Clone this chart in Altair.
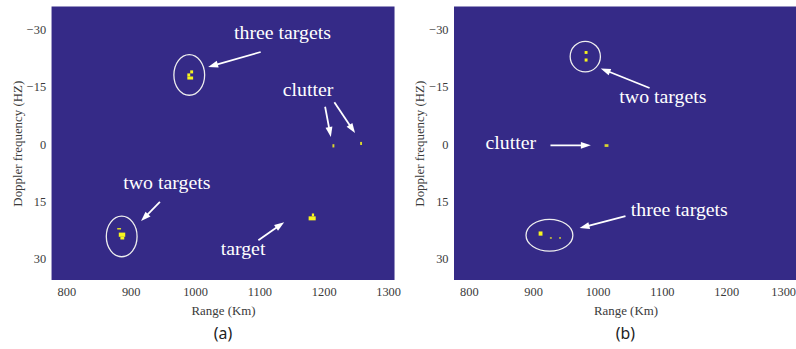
import math
import altair as alt
import pandas as pd

# Axis extents of both range-Doppler maps
RANGE_DOMAIN = [777, 1310]      # km
DOPPLER_DOMAIN = [-36, 35.5]    # Hz
PLOT_W, PLOT_H = 346, 276

BG = "#352A87"
YELLOW = "#F7F41E"
SERIF = "'Liberation Serif', 'Times New Roman', Times, serif"
SANS = "'Noto Sans', 'DejaVu Sans', sans-serif"
INK = "#3a3a3a"

RANGE_TICKS = [800, 900, 1000, 1100, 1200, 1300]
DOPPLER_TICKS = [-30, -15, 0, 15, 30]

# ---- panel (a) ----
# detected cells: range start, range end, doppler start, doppler end, intensity
a_cells = [
    (992.5, 997.0, -19.3, -18.5, 1.0),
    (988.0, 992.5, -18.5, -17.7, 1.0),
    (988.0, 997.0, -17.7, -16.9, 1.0),
    (879.0, 885.0, 21.9, 22.3, 0.85),
    (881.5, 891.5, 23.1, 24.2, 1.0),
    (884.0, 890.0, 24.2, 24.9, 1.0),
    (1181.5, 1185.0, 18.1, 18.85, 1.0),
    (1176.5, 1187.5, 18.85, 19.9, 1.0),
    (1213.5, 1216.5, 0.0, 0.85, 0.85),
    (1256.5, 1259.5, -0.6, 0.2, 0.85),
]
# ellipses: centre range, centre doppler, half-width (km), half-height (Hz)
a_ellipses = [
    (991.0, -18.1, 23.9, 5.31),
    (886.0, 24.1, 23.9, 5.31),
]
# arrows: tail range, tail doppler, tip range, tip doppler
a_arrows = [
    (1102.0, -24.1, 1020.4, -20.2),
    (1202.1, -9.8, 1211.0, -1.9),
    (1216.5, -10.95, 1248.6, -2.9),
    (945.4, 15.1, 916.1, 20.1),
    (1098.4, 25.1, 1138.5, 20.4),
]
a_labels = [
    ("three targets", 1135.9, -29.1),
    ("clutter", 1175.5, -14.2),
    ("two targets", 956.2, 10.2),
    ("target", 1074.6, 27.5),
]

# ---- panel (b) ----
b_cells = [
    (980.0, 984.5, -24.35, -23.6, 1.0),
    (980.0, 984.5, -22.4, -21.6, 1.0),
    (1011.0, 1017.0, 0.0, 0.7, 0.85),
    (908.5, 914.5, 22.8, 23.9, 1.0),
    (926.0, 929.0, 24.3, 24.7, 0.8),
    (940.3, 943.3, 24.3, 24.7, 0.8),
]
b_ellipses = [
    (981.0, -22.9, 23.5, 4.0),
    (925.3, 23.8, 36.4, 4.15),
]
b_arrows = [
    (1080.9, -14.7, 1005.0, -19.8),
    (926.9, 0.3, 989.6, 0.3),
    (1043.5, 18.8, 972.2, 21.9),
]
b_labels = [
    ("two targets", 1101.6, -12.25),
    ("clutter", 865.3, -0.2),
    ("three targets", 1127.1, 17.3),
]

# pixels per data unit on each axis
KX = PLOT_W / (RANGE_DOMAIN[1] - RANGE_DOMAIN[0])
KY = PLOT_H / (DOPPLER_DOMAIN[1] - DOPPLER_DOMAIN[0])

HEAD_LEN = 10.0
HEAD_PATH = "M0,-1L0.7,1L-0.7,1Z"

x_scale = alt.Scale(domain=RANGE_DOMAIN, nice=False, zero=False)
y_scale = alt.Scale(domain=DOPPLER_DOMAIN, nice=False, zero=False, reverse=True)

x_axis_a = alt.Axis(title="Range (Km)", values=RANGE_TICKS,
                    format="d", labelPadding=6, titlePadding=6)
# the right-hand map runs to the page edge: keep its last label inside
x_axis_b = alt.Axis(title="Range (Km)", values=RANGE_TICKS,
                    format="d", labelPadding=6, titlePadding=6,
                    labelFlush=8, labelFlushOffset=5)
y_axis = alt.Axis(title="Doppler frequency (HZ)", values=DOPPLER_TICKS,
                  format="d", labelPadding=6, titlePadding=2)


def ellipse_layer(cr, cd, hr, hd, x_axis):
    hx, hy = hr * KX, hd * KY
    r = max(hx, hy)
    ax, ay = hx / r, hy / r
    path = (f"M0,{-ay:.4f}A{ax:.4f},{ay:.4f} 0 1,1 0,{ay:.4f}"
            f"A{ax:.4f},{ay:.4f} 0 1,1 0,{-ay:.4f}Z")
    df = pd.DataFrame({"range": [cr], "doppler": [cd]})
    return alt.Chart(df).mark_point(
        shape=path, size=(2 * r) ** 2, filled=False, stroke="#eeeeee",
        strokeWidth=1.3, opacity=1
    ).encode(x=alt.X("range:Q", scale=x_scale, axis=x_axis),
             y=alt.Y("doppler:Q", scale=y_scale, axis=y_axis))


def panel(cells, ellipses, arrows, labels, caption, x_axis):
    cdf = pd.DataFrame(cells, columns=["r0", "r1", "d0", "d1", "level"])
    rects = alt.Chart(cdf).mark_rect().encode(
        x=alt.X("r0:Q", scale=x_scale, axis=x_axis),
        x2="r1:Q",
        y=alt.Y("d0:Q", scale=y_scale, axis=y_axis),
        y2="d1:Q",
        color=alt.Color("level:Q",
                        scale=alt.Scale(domain=[0, 1], range=[BG, YELLOW],
                                        interpolate="rgb"),
                        legend=None),
    )

    rows = []
    for r0, d0, r1, d1 in arrows:
        dx, dy = (r1 - r0) * KX, (d1 - d0) * KY
        n = math.hypot(dx, dy)
        ux, uy = dx / n, dy / n
        hr = r1 - ux * HEAD_LEN / 2 / KX
        hd = d1 - uy * HEAD_LEN / 2 / KY
        ang = math.degrees(math.atan2(ux, -uy)) % 360
        rows.append({"r0": r0, "d0": d0, "hr": hr, "hd": hd, "angle": ang})
    adf = pd.DataFrame(rows)
    shafts = alt.Chart(adf).mark_rule(color="white", strokeWidth=1.8).encode(
        x=alt.X("r0:Q", scale=x_scale, axis=x_axis),
        y=alt.Y("d0:Q", scale=y_scale, axis=y_axis),
        x2="hr:Q", y2="hd:Q",
    )
    heads = alt.Chart(adf).mark_point(
        shape=HEAD_PATH, size=HEAD_LEN ** 2, filled=True, color="white", opacity=1
    ).encode(
        x=alt.X("hr:Q", scale=x_scale, axis=x_axis),
        y=alt.Y("hd:Q", scale=y_scale, axis=y_axis),
        angle=alt.Angle("angle:Q", scale=None),
    )

    ldf = pd.DataFrame(labels, columns=["text", "range", "doppler"])
    texts = alt.Chart(ldf).mark_text(
        font=SERIF, fontSize=20, color="white", align="center", baseline="middle"
    ).encode(
        x=alt.X("range:Q", scale=x_scale, axis=x_axis),
        y=alt.Y("doppler:Q", scale=y_scale, axis=y_axis),
        text="text:N",
    )

    layers = ([rects] + [ellipse_layer(*e, x_axis) for e in ellipses]
              + [shafts, heads, texts])
    return alt.layer(*layers).properties(
        width=PLOT_W, height=PLOT_H,
        title=alt.TitleParams(caption, orient="bottom", font=SANS, fontSize=16,
                              fontWeight="normal", color="#222222", offset=9),
    )


chart = alt.hconcat(
    panel(a_cells, a_ellipses, a_arrows, a_labels, "(a)", x_axis_a),
    panel(b_cells, b_ellipses, b_arrows, b_labels, "(b)", x_axis_b),
    spacing=12,
).configure_view(
    fill=BG, stroke=None
).configure_axis(
    domain=False, ticks=False, grid=False,
    labelFont=SERIF, labelFontSize=12.5, labelColor=INK,
    titleFont=SERIF, titleFontSize=13, titleFontWeight="normal", titleColor=INK,
).properties(
    padding={"left": 11, "top": 5, "right": -1, "bottom": 0},
    background="white",
)

chart.save("out.html", embed_options={"renderer": "svg", "actions": False})
